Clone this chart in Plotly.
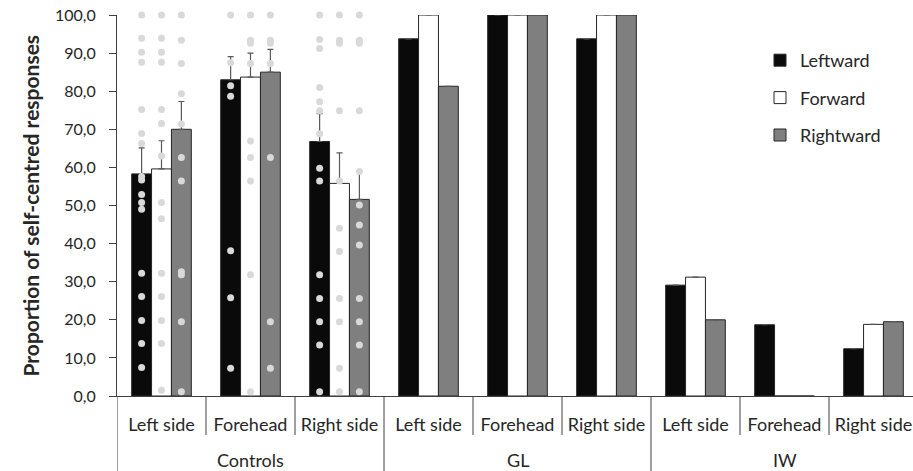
import plotly.graph_objects as go

# ---------------- data ----------------
groups = ["Controls", "GL", "IW"]
subcats = ["Left side", "Forehead", "Right side"]
series_names = ["Leftward", "Forward", "Rightward"]

leftward = [58.3, 83.0, 66.8, 93.75, 100.0, 93.75, 29.1, 18.7, 12.4]
forward = [59.6, 83.7, 55.8, 100.0, 100.0, 100.0, 31.2, 0.0, 18.8]
rightward = [70.0, 85.0, 51.6, 81.3, 100.0, 100.0, 20.0, 0.0, 19.5]

# upward (plus) error bars, Controls only
leftward_err = [6.8, 6.1, 7.3, None, None, None, None, None, None]
forward_err = [7.4, 6.3, 8.0, None, None, None, None, None, None]
rightward_err = [7.3, 6.0, 7.5, None, None, None, None, None, None]

# individual participants (Controls)
left_side_leftward_pts = [100, 93.9, 90.2, 87.6, 75.2, 68.9, 66.3, 57.6, 56.7, 52.9, 50.8, 49.0, 32.2, 26.1, 19.8, 13.8, 7.5]
left_side_forward_pts = [100, 93.9, 90.2, 87.6, 75.2, 71.5, 63.0, 50.8, 46.5, 32.2, 26.1, 19.8, 13.8, 1.5]
left_side_rightward_pts = [100, 93.4, 87.3, 79.3, 71.4, 62.6, 56.4, 32.6, 31.8, 19.5, 1.1]
forehead_leftward_pts = [100, 87.5, 81.4, 78.7, 38.1, 25.8, 7.3]
forehead_forward_pts = [100, 93.4, 92.6, 87.3, 66.9, 62.6, 56.4, 31.8, 1.1]
forehead_rightward_pts = [100, 93.4, 92.6, 87.3, 62.6, 19.5, 7.3]
right_side_leftward_pts = [100, 93.6, 91.2, 81.0, 77.2, 74.9, 68.8, 59.8, 56.4, 31.8, 25.6, 19.5, 13.4, 1.1]
right_side_forward_pts = [100, 93.4, 92.6, 74.9, 56.4, 44.0, 37.9, 25.6, 19.5, 7.3, 1.1]
right_side_rightward_pts = [100, 93.4, 92.6, 74.9, 58.9, 50.1, 44.9, 39.6, 25.6, 19.5, 13.4, 1.1]

# ---------------- styling ----------------
FONT = "Lato"
TXT = "#262626"
AX = "#404040"
BARGAP = 0.33
colors = ["#0a0a0a", "#ffffff", "#7f7f7f"]
W, H = 913, 471
ML, MR, MT, MB = 117, 0, 15, 75
plot_h = H - MT - MB
plot_w = W - ML - MR

n_cat = len(groups) * len(subcats)
cat_idx = list(range(n_cat))
tick_text = subcats * len(groups)

values = [leftward, forward, rightward]
errs = [leftward_err, forward_err, rightward_err]
pts = [
    [left_side_leftward_pts, forehead_leftward_pts, right_side_leftward_pts],
    [left_side_forward_pts, forehead_forward_pts, right_side_forward_pts],
    [left_side_rightward_pts, forehead_rightward_pts, right_side_rightward_pts],
]

fig = go.Figure()
for k, name in enumerate(series_names):
    fig.add_trace(go.Bar(
        x=cat_idx, y=values[k], name=name, legendgroup=name,
        marker=dict(color=colors[k], line=dict(color="#262626", width=1)),
        error_y=dict(type="data", symmetric=False, array=errs[k],
                     arrayminus=[0 if e is not None else None for e in errs[k]],
                     color="#595959", thickness=1.2, width=3),
    ))

w = (1 - BARGAP) / 3
for k, name in enumerate(series_names):
    xs, ys = [], []
    for c, lst in enumerate(pts[k]):
        for v in lst:
            xs.append(c + (k - 1) * w)
            ys.append(v)
    fig.add_trace(go.Scatter(
        x=xs, y=ys, mode="markers", showlegend=False, hoverinfo="y",
        cliponaxis=False,
        marker=dict(color="#d9d9d9", size=7),
    ))

shapes = []
for i in range(n_cat + 1):
    is_group = (i % len(subcats) == 0)
    y1 = -(MB / plot_h) if is_group else -(39 / plot_h)
    shapes.append(dict(type="line", xref="x", yref="paper",
                       x0=i - 0.5, x1=i - 0.5, y0=0, y1=y1,
                       line=dict(color=AX, width=1)))

annotations = []
for g, name in enumerate(groups):
    annotations.append(dict(
        text=name, xref="x", yref="paper", x=g * len(subcats) + 1,
        y=-(64 / plot_h), xanchor="center", yanchor="middle", showarrow=False,
        font=dict(family=FONT, size=18, color=TXT)))
annotations.append(dict(
    text="<b>Proportion of self-centred responses</b>", xref="paper", yref="paper",
    x=-(87 / plot_w), y=0.5, xanchor="center", yanchor="middle",
    textangle=-90, showarrow=False, font=dict(family=FONT, size=21, color=TXT)))

fig.update_layout(
    width=W, height=H, margin=dict(l=ML, r=MR, t=MT, b=MB, autoexpand=False),
    paper_bgcolor="white", plot_bgcolor="white",
    barmode="group", bargap=BARGAP, bargroupgap=0,
    separators=",.",
    font=dict(family=FONT, color=TXT),
    showlegend=True,
    legend=dict(x=(760 - 117) / plot_w, y=(396 - 42) / plot_h,
                xanchor="left", yanchor="top", traceorder="grouped",
                tracegroupgap=11, font=dict(family=FONT, size=18, color=TXT),
                bgcolor="rgba(0,0,0,0)"),
    xaxis=dict(range=[-0.5, -0.5 + plot_w / 89], tickvals=cat_idx,
               ticktext=tick_text, ticks="", showline=True, linecolor=AX,
               linewidth=1, showgrid=False, zeroline=False, ticklabelstandoff=12,
               tickfont=dict(family=FONT, size=18, color=TXT)),
    yaxis=dict(range=[0, 100], tickvals=list(range(0, 101, 10)), tickformat=".1f",
               ticks="outside", ticklen=7, tickcolor=AX, showline=True,
               linecolor=AX, linewidth=1, showgrid=False, zeroline=False,
               ticklabelstandoff=10, ticklabeloverflow="allow",
               tickfont=dict(family=FONT, size=16, color=TXT)),
    shapes=shapes, annotations=annotations,
)

# remove the browser's default page margin so the figure fills the window
fig.write_html("out.html",
               config={"displayModeBar": False},
               post_script="document.body.style.margin='0';"
                           "document.body.style.overflow='hidden';")
